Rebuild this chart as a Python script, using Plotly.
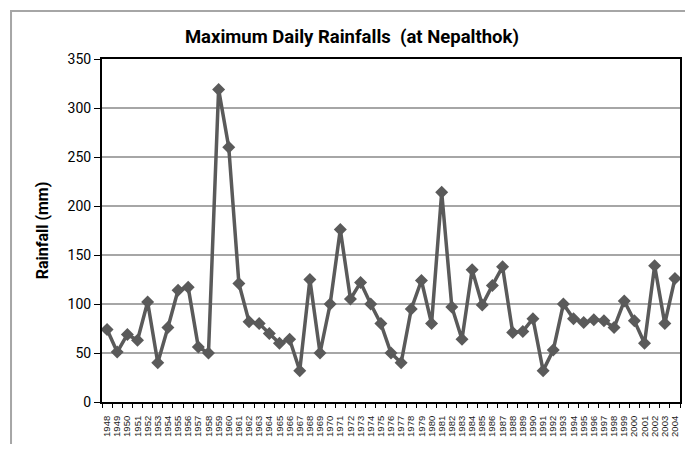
import plotly.graph_objects as go

years = [str(y) for y in range(1948, 2005)]
rainfall = [74, 51, 69, 63, 102, 40, 76, 114, 117, 56, 50, 319, 260, 121, 82, 80, 70, 60, 64, 32,
            125, 50, 100, 176, 105, 122, 100, 80, 50, 40, 95, 124, 80, 214, 97, 64, 135, 99, 119, 138,
            71, 72, 85, 32, 53, 100, 85, 81, 84, 83, 76, 103, 83, 60, 139, 80, 126]
y_ticks = [0, 50, 100, 150, 200, 250, 300, 350]

fig = go.Figure()
fig.add_trace(go.Scatter(
    x=years, y=rainfall, mode="lines+markers",
    line=dict(color="#5a5a5a", width=3.5),
    marker=dict(symbol="diamond", size=10, color="#5a5a5a"),
    showlegend=False,
))

fig.update_layout(
    width=677, height=436,
    margin=dict(l=94, r=5, t=51, b=42, autoexpand=False),
    paper_bgcolor="white", plot_bgcolor="white",
    title=dict(text="<b>Maximum Daily Rainfalls  (at Nepalthok)</b>",
               x=0.508, xanchor="center", y=0.935, yanchor="middle",
               font=dict(family="Roboto, Arial", size=18.5, color="black")),
    xaxis=dict(type="category", tickmode="array", tickvals=years, ticktext=years,
               range=[-0.5, len(years) - 0.5],
               tickangle=-90, tickson="boundaries", automargin=False,
               ticks="outside", ticklen=4, tickcolor="black", ticklabelstandoff=8,
               showline=True, linecolor="black", linewidth=2, mirror=True,
               showgrid=False,
               tickfont=dict(family="Liberation Sans, Arial", size=9.5, color="#222")),
    yaxis=dict(range=[0, 350], tickvals=y_ticks, ticks="outside", ticklen=6,
               tickcolor="black", showline=True, linecolor="black", linewidth=2,
               mirror=True, showgrid=True, gridcolor="#a6a6a6", gridwidth=1.5,
               zeroline=False, automargin=False,
               title=dict(text="<b>Rainfall (mm)</b>", standoff=15,
                          font=dict(family="Roboto, Arial", size=16, color="black")),
               tickfont=dict(family="Roboto, Arial", size=14, color="black")),
    shapes=[dict(type="rect", xref="paper", yref="paper",
                 x0=-0.1574, x1=1.05, y0=-0.2, y1=1.1399,
                 line=dict(color="#a6a6a6", width=2), layer="below")],
)

fig.write_html("out.html")
